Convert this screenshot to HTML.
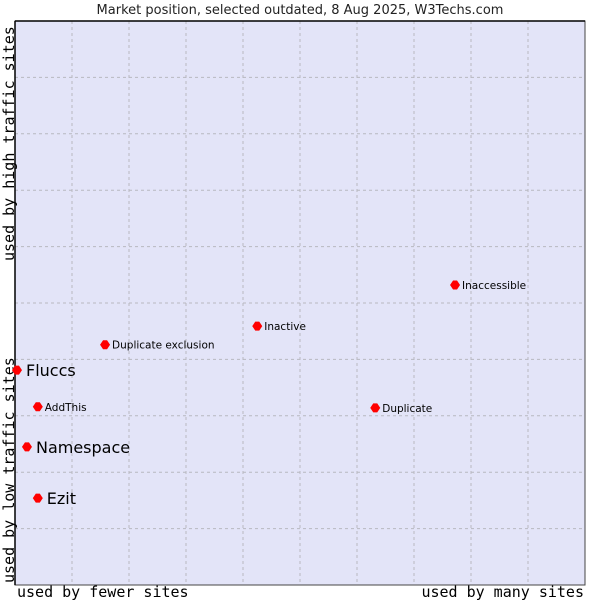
<!DOCTYPE html>
<html><head><meta charset="utf-8"><style>
body{margin:0;background:#fff;width:600px;height:600px;overflow:hidden}
svg{display:block}
</style></head><body>
<svg id="chart" width="600" height="600" xmlns="http://www.w3.org/2000/svg">
<text x="300" y="14" text-anchor="middle" font-family="DejaVu Sans, sans-serif" font-size="13" fill="#222">Market position, selected outdated, 8 Aug 2025, W3Techs.com</text>
<rect x="15" y="21" width="570" height="564" fill="#e3e4f8" stroke="#444" stroke-width="1"/>
<g id="grid"></g>
<line x1="15" y1="21" x2="585" y2="21" stroke="#000" stroke-width="1.5"/>
<line x1="15" y1="21" x2="15" y2="585" stroke="#000" stroke-width="1.5"/>
<text x="17" y="597" font-family="DejaVu Sans Mono, monospace" font-size="15" fill="#000">used by fewer sites</text>
<text x="584" y="597" text-anchor="end" font-family="DejaVu Sans Mono, monospace" font-size="15" fill="#000">used by many sites</text>
<text transform="translate(14,583) rotate(-90)" font-family="DejaVu Sans Mono, monospace" font-size="15" fill="#000">used by low traffic sites</text>
<text transform="translate(14,261) rotate(-90)" font-family="DejaVu Sans Mono, monospace" font-size="15" fill="#000">used by high traffic sites</text>
<g id="points"></g>
</svg>
<script>
const names=["Fluccs","Namespace","Ezit","AddThis","Duplicate exclusion","Inactive","Duplicate","Inaccessible"];
const xValues=[0.35,2.1,4.0,4.0,15.8,42.5,63.2,77.2];
const yValues=[38.1,24.5,15.4,31.6,42.6,45.9,31.4,53.2];
const bigLabel=[true,true,true,false,false,false,false,false];
const NS="http://www.w3.org/2000/svg";
const X=v=>15+v*5.7, Y=v=>585-v*5.64;
const grid=document.getElementById('grid');
for(let i=1;i<10;i++){
  const l=document.createElementNS(NS,'line');
  
  
  l.setAttribute('x1',X(i*10));l.setAttribute('x2',X(i*10));l.setAttribute('y1',21);l.setAttribute('y2',585);
  l.setAttribute('stroke','#b8b8c0');l.setAttribute('stroke-dasharray','3,3');grid.appendChild(l);
  const h=document.createElementNS(NS,'line');
  
  
  h.setAttribute('y1',Y(i*10));h.setAttribute('y2',Y(i*10));h.setAttribute('x1',15);h.setAttribute('x2',585);
  h.setAttribute('stroke','#b8b8c0');h.setAttribute('stroke-dasharray','3,3');grid.appendChild(h);
}
const pts=document.getElementById('points');
names.forEach((n,i)=>{
  const x=X(xValues[i]),y=Y(yValues[i]);
  const p=document.createElementNS(NS,'polygon');
  
  
  p.setAttribute('points',`${x-2},${y-4.5} ${x+2},${y-4.5} ${x+5},${y} ${x+2},${y+4.5} ${x-2},${y+4.5} ${x-5},${y}`);
  p.setAttribute('fill','#ff0000');pts.appendChild(p);
  const t=document.createElementNS(NS,'text');
  
  
  const big=bigLabel[i];
  t.setAttribute('x',x+(big?9:7));t.setAttribute('y',y+(big?6:4));
  t.setAttribute('font-family','DejaVu Sans, sans-serif');
  t.setAttribute('font-size',big?'16':'10.5');t.setAttribute('fill','#000');
  t.textContent=n;pts.appendChild(t);
});
</script>
</body></html>
